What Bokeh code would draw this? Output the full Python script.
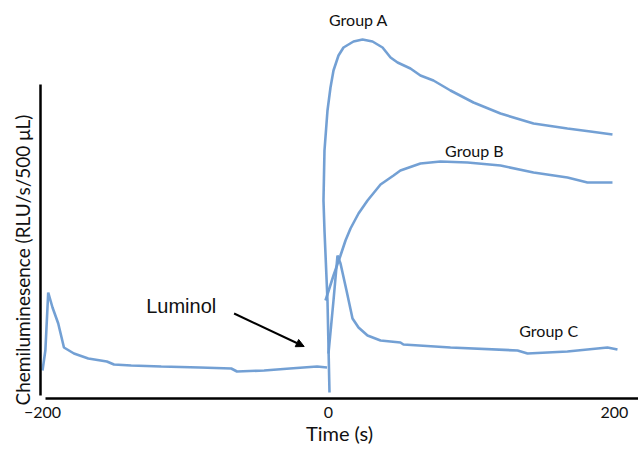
import math
from bokeh.plotting import figure
from bokeh.models import ColumnDataSource, FixedTicker, Label, Arrow, NormalHead, Title
from bokeh.core.properties import value
from bokeh.embed import file_html
from bokeh.resources import INLINE

# ---- data (time in s, chemiluminescence in arbitrary RLU units) ----
time_base = [-200, -198, -196, -193, -189, -185, -178, -168, -155, -150, -138,
             -117, -90, -68, -64, -45, -27, -8, -1]
rlu_base = [28, 48, 106, 91, 75, 51, 45, 40, 37, 34, 33,
            32, 31, 30, 27, 28, 30, 32, 31]

time_a = [0.7, -0.7, -2.8, -3.5, -2.8, -0.7, 1.4, 3.5, 7.0, 10.5, 17.5, 23.8,
          30.8, 37.8, 43.4, 48.3, 57.3, 64.3, 73.4, 85.3, 101.4, 120.3, 143.4,
          167.1, 183.2, 198.6]
rlu_a = [6, 98, 168, 198, 248, 288, 311, 328, 343, 351, 357, 359,
         357, 351, 341, 336, 330, 323, 318, 308, 296, 285, 275,
         270, 267, 264]

time_b = [-2.1, 3.5, 8.4, 11.9, 15.4, 21.0, 27.3, 36.4, 45.5, 50.3, 64.3,
          78.3, 97.2, 120.3, 143.4, 167.1, 181.1, 198.6]
rlu_b = [98, 123, 143, 158, 170, 185, 198, 214, 223, 228, 235,
         237, 236, 233, 226, 221, 216, 216]

time_c = [0, 3.5, 6.3, 8.4, 12.6, 16.8, 21.0, 27.3, 36.4, 50.3, 52.4,
          85.3, 132.2, 139.2, 167.1, 195.1, 202.1]
rlu_c = [45, 98, 143, 135, 108, 80, 71, 63, 58, 56, 54,
         51, 48, 45, 47, 51, 49]

group_names = ["Group A", "Group B", "Group C"]
group_label_time = [21, 102, 154]
group_label_rlu = [379, 248, 68]

x_ticks = [-200, 0, 200]

LINE = "#6b9bd2"
FONT = "Lato"

p = figure(width=638, height=450, x_range=(-201.4, 216.8), y_range=(0, 398),
           output_backend="svg", toolbar_location=None,
           min_border_left=40, min_border_right=0, min_border_top=0,
           min_border_bottom=52)
p.outline_line_color = None
p.grid.visible = False
p.background_fill_color = "white"

for xs, ys in [(time_base, rlu_base), (time_a, rlu_a), (time_b, rlu_b), (time_c, rlu_c)]:
    p.line(xs, ys, line_color=LINE, line_width=2.6, line_alpha=0.95)

src = ColumnDataSource(dict(x=group_label_time, y=group_label_rlu, t=group_names))
p.text("x", "y", text="t", source=src, text_align="center", text_baseline="middle",
       text_font=value(FONT), text_font_size="16px", text_color="#111111")

p.add_layout(Label(x=-103, y=93, text="Luminol", text_align="center",
                   text_baseline="middle", text_font="Liberation Sans",
                   text_font_size="20px", text_color="#111111"))
p.add_layout(Arrow(x_start=-66, y_start=85, x_end=-17, y_end=52,
                   line_color="black", line_width=2,
                   end=NormalHead(size=8, fill_color="black", line_color="black")))

# x axis
xa = p.xaxis[0]
xa.ticker = FixedTicker(ticks=x_ticks)
xa.major_label_overrides = {-200: "\u2212200"}
xa.major_tick_line_color = None
xa.minor_tick_line_color = None
xa.major_tick_out = 0
xa.major_tick_in = 0
xa.minor_tick_out = 0
xa.minor_tick_in = 0
xa.axis_line_color = "black"
xa.axis_line_width = 2.5
xa.bounds = (-198, 216.8)
xa.major_label_text_font = FONT
xa.major_label_text_font_size = "16px"
xa.major_label_text_color = "#111111"
xa.major_label_standoff = 8
xa.axis_label = "Time (s)"
xa.axis_label_text_font = FONT
xa.axis_label_text_font_style = "normal"
xa.axis_label_text_font_size = "20px"
xa.axis_label_text_color = "#111111"
xa.axis_label_standoff = 0

# y axis (no ticks)
ya = p.yaxis[0]
ya.ticker = FixedTicker(ticks=[])
ya.major_tick_line_color = None
ya.minor_tick_line_color = None
ya.major_tick_out = 0
ya.major_tick_in = 0
ya.minor_tick_out = 0
ya.minor_tick_in = 0
ya.major_label_standoff = 0
ya.major_label_text_font_size = "0px"
ya.axis_line_color = "black"
ya.axis_line_width = 2.5
ya.bounds = (3, 314)

ylab = Title(text="Chemiluminesence (RLU/s/500 \u03bcL)", align="left", offset=-7,
             text_font=FONT, text_font_size="19px", text_font_style="normal",
             text_color="#111111", standoff=13)
p.add_layout(ylab, "left")

open("out.html", "w").write(file_html(p, INLINE))
